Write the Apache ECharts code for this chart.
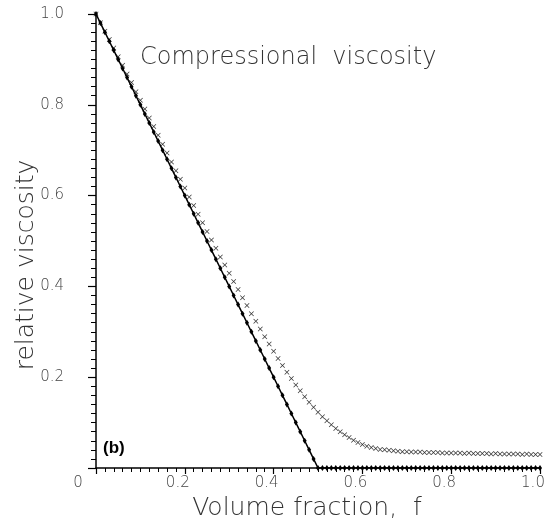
<!DOCTYPE html>
<html>
<head>
<meta charset="utf-8">
<script src="https://cdn.jsdelivr.net/npm/echarts@6/dist/echarts.min.js"></script>
<style>
  html, body { margin: 0; padding: 0; background: #fff; }
  #main { width: 552px; height: 520px; }
</style>
</head>
<body>
<div id="main"></div>
<script>
// volume fraction f, sampled every 0.01
const fractions = [
  0.00, 0.01, 0.02, 0.03, 0.04, 0.05, 0.06, 0.07, 0.08, 0.09,
  0.10, 0.11, 0.12, 0.13, 0.14, 0.15, 0.16, 0.17, 0.18, 0.19,
  0.20, 0.21, 0.22, 0.23, 0.24, 0.25, 0.26, 0.27, 0.28, 0.29,
  0.30, 0.31, 0.32, 0.33, 0.34, 0.35, 0.36, 0.37, 0.38, 0.39,
  0.40, 0.41, 0.42, 0.43, 0.44, 0.45, 0.46, 0.47, 0.48, 0.49,
  0.50, 0.51, 0.52, 0.53, 0.54, 0.55, 0.56, 0.57, 0.58, 0.59,
  0.60, 0.61, 0.62, 0.63, 0.64, 0.65, 0.66, 0.67, 0.68, 0.69,
  0.70, 0.71, 0.72, 0.73, 0.74, 0.75, 0.76, 0.77, 0.78, 0.79,
  0.80, 0.81, 0.82, 0.83, 0.84, 0.85, 0.86, 0.87, 0.88, 0.89,
  0.90, 0.91, 0.92, 0.93, 0.94, 0.95, 0.96, 0.97, 0.98, 0.99,
  1.00
];
// solid curve (filled markers)
const solidVals = [
  1.00, 0.98, 0.96, 0.94, 0.92, 0.90, 0.88, 0.86, 0.84, 0.82,
  0.80, 0.78, 0.76, 0.74, 0.72, 0.70, 0.68, 0.66, 0.64, 0.62,
  0.60, 0.58, 0.56, 0.54, 0.52, 0.50, 0.48, 0.46, 0.44, 0.42,
  0.40, 0.38, 0.36, 0.34, 0.32, 0.30, 0.28, 0.26, 0.24, 0.22,
  0.20, 0.18, 0.16, 0.14, 0.12, 0.10, 0.08, 0.06, 0.04, 0.02,
  0.00, 0.00, 0.00, 0.00, 0.00, 0.00, 0.00, 0.00, 0.00, 0.00,
  0.00, 0.00, 0.00, 0.00, 0.00, 0.00, 0.00, 0.00, 0.00, 0.00,
  0.00, 0.00, 0.00, 0.00, 0.00, 0.00, 0.00, 0.00, 0.00, 0.00,
  0.00, 0.00, 0.00, 0.00, 0.00, 0.00, 0.00, 0.00, 0.00, 0.00,
  0.00, 0.00, 0.00, 0.00, 0.00, 0.00, 0.00, 0.00, 0.00, 0.00,
  0.00
];
// crosses
const crossVals = [
  1.000, 0.981, 0.962, 0.944, 0.925, 0.906, 0.887, 0.868, 0.849, 0.829,
  0.810, 0.791, 0.771, 0.752, 0.733, 0.713, 0.694, 0.674, 0.655, 0.636,
  0.617, 0.597, 0.578, 0.559, 0.540, 0.521, 0.502, 0.484, 0.465, 0.447,
  0.429, 0.411, 0.393, 0.375, 0.358, 0.340, 0.323, 0.306, 0.289, 0.273,
  0.257, 0.241, 0.226, 0.211, 0.197, 0.183, 0.170, 0.157, 0.145, 0.134,
  0.123, 0.113, 0.104, 0.095, 0.087, 0.080, 0.073, 0.067, 0.061, 0.056,
  0.052, 0.048, 0.045, 0.043, 0.041, 0.040, 0.039, 0.038, 0.037, 0.036,
  0.036, 0.035, 0.035, 0.035, 0.034, 0.034, 0.034, 0.034, 0.033, 0.033,
  0.033, 0.033, 0.033, 0.032, 0.033, 0.032, 0.032, 0.032, 0.032, 0.031,
  0.032, 0.031, 0.031, 0.031, 0.031, 0.031, 0.030, 0.031, 0.030, 0.030,
  0.030
];
const xTicks = [0, 0.2, 0.4, 0.6, 0.8, 1.0];

const labelFont = "DejaVu Sans";
const crossPath = "path://M0,1L1,0L5,4L9,0L10,1L6,5L10,9L9,10L5,6L1,10L0,9L4,5Z";

var myChart = echarts.init(document.getElementById("main"));
var option = {
  backgroundColor: "#fff",
  animation: false,
  grid: { left: 96, right: 12, top: 14, bottom: 52, outerBoundsMode: "none" },
  xAxis: {
    type: "value",
    min: 0,
    max: 1,
    interval: 0.2,
    name: "Volume fraction,  f",
    nameLocation: "middle",
    nameGap: 28,
    nameMoveOverlap: false,
    nameTextStyle: {
      fontFamily: labelFont, fontWeight: 200, fontSize: 25, color: "#333",
      padding: [0, 22, 0, 0]
    },
    axisLine: { lineStyle: { color: "#000", width: 1.5 } },
    axisTick: { length: 6, lineStyle: { color: "#000", width: 1.2 } },
    minorTick: { show: true, splitNumber: 10, length: 4, lineStyle: { color: "#000", width: 1 } },
    splitLine: { show: false },
    axisLabel: {
      margin: 8,
      fontFamily: labelFont, fontWeight: 200, fontSize: 15, color: "#444",
      formatter: function (v) {
        if (v === 0) return "{z|0}";
        return xTicks.indexOf(v) >= 0 ? v.toFixed(1) : "";
      },
      padding: [0, 14, 0, 0],
      rich: { z: { fontFamily: labelFont, fontWeight: 200, fontSize: 15, color: "#444", padding: [0, 22, 0, 0] } }
    }
  },
  yAxis: {
    type: "value",
    min: 0,
    max: 1,
    interval: 0.2,
    name: "relative viscosity",
    nameLocation: "middle",
    nameGap: 57,
    nameMoveOverlap: false,
    nameTextStyle: {
      fontFamily: labelFont, fontWeight: 200, fontSize: 25, color: "#333",
      padding: [0, 48, 0, 0]
    },
    axisLine: { lineStyle: { color: "#000", width: 1.5 } },
    axisTick: { length: 8, lineStyle: { color: "#000", width: 1.2 } },
    minorTick: { show: true, splitNumber: 10, length: 5, lineStyle: { color: "#000", width: 1 } },
    splitLine: { show: false },
    axisLabel: {
      showMinLabel: false,
      margin: 32,
      fontFamily: labelFont, fontWeight: 200, fontSize: 15, color: "#444",
      formatter: function (v) { return v.toFixed(1); }
    }
  },
  graphic: [
    {
      type: "text", left: 140, top: 46,
      style: { text: "Compressional  viscosity", fontFamily: labelFont, fontWeight: 200, fontSize: 24, fill: "#333" }
    },
    {
      type: "text", left: 103, top: 440,
      style: { text: "(b)", fontFamily: "Liberation Sans", fontWeight: "bold", fontSize: 17, fill: "#000" }
    }
  ],
  series: [
    {
      type: "line",
      data: fractions.map(function (f, i) { return [f, solidVals[i]]; }),
      symbol: "diamond",
      symbolSize: [4, 6],
      itemStyle: { color: "#000" },
      lineStyle: { color: "#000", width: 1.5 },
      z: 3
    },
    {
      type: "scatter",
      data: fractions.map(function (f, i) { return [f, crossVals[i]]; }),
      symbol: crossPath,
      symbolSize: 5,
      itemStyle: { color: "#000" },
      z: 2
    }
  ]
};
option && myChart.setOption(option);
</script>
</body>
</html>
